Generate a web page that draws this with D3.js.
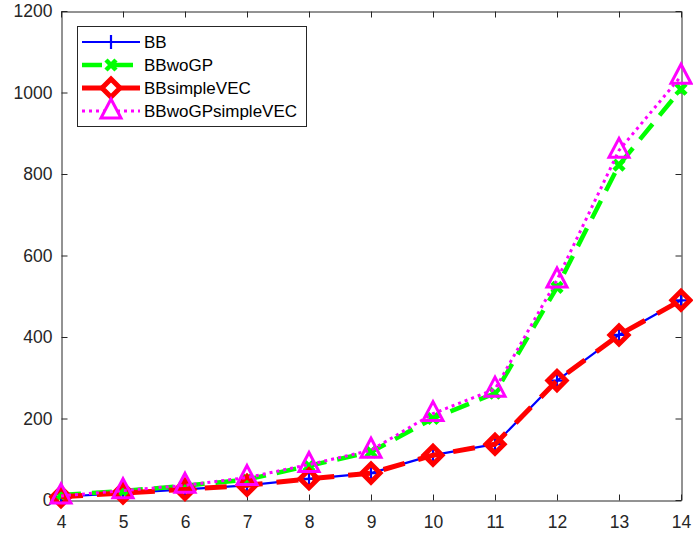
<!DOCTYPE html>
<html>
<head>
<meta charset="utf-8">
<script src="https://cdn.jsdelivr.net/npm/d3@7"></script>
<style>
  html, body { margin: 0; padding: 0; background: #fff; }
  svg { display: block; font-family: "Liberation Sans", Arial, Helvetica, sans-serif; }
</style>
</head>
<body>
<svg id="chart" width="693" height="538"></svg>
<script>
// ---- data ----
const xValues = [4, 5, 6, 7, 8, 9, 10, 11, 12, 13, 14];
const seriesNames = ["BB", "BBwoGP", "BBsimpleVEC", "BBwoGPsimpleVEC"];
const bbValues = [8, 17, 26, 36, 52, 66, 110, 137, 293, 405, 490];
const bbwoGPValues = [12, 22, 35, 50, 84, 118, 200, 262, 522, 822, 1008];
const bbSimpleVECValues = [8, 17, 26, 36, 52, 66, 110, 137, 293, 405, 490];
const bbwoGPSimpleVECValues = [10, 23, 36, 55, 87, 122, 212, 272, 540, 858, 1040];
const xTicks = [4, 5, 6, 7, 8, 9, 10, 11, 12, 13, 14];
const yTicks = [0, 200, 400, 600, 800, 1000, 1200];

// ---- layout ----
const plot = { left: 61, right: 681, top: 11, bottom: 500 };
const axisColor = "#262626";
const tickFont = 17.5;

const svg = d3.select("#chart");
const x = d3.scaleLinear().domain([4, 14]).range([plot.left, plot.right]);
const y = d3.scaleLinear().domain([0, 1200]).range([plot.bottom, plot.top]);

// axes (box, inward ticks)
const tickLen = 6;
const gAx = svg.append("g");
const bottomAxis = d3.axisBottom(x).tickValues(xTicks).tickSizeInner(-tickLen).tickSizeOuter(0).tickPadding(15).tickFormat(d3.format("d"));
const leftAxis = d3.axisLeft(y).tickValues(yTicks).tickSizeInner(-tickLen).tickSizeOuter(0).tickPadding(9).tickFormat(d3.format("d"));
const topAxis = d3.axisTop(x).tickValues(xTicks).tickSizeInner(-tickLen).tickSizeOuter(0).tickFormat("");
const rightAxis = d3.axisRight(y).tickValues(yTicks).tickSizeInner(-tickLen).tickSizeOuter(0).tickFormat("");

function styleAxis(g) {
  g.attr("font-size", tickFont).attr("font-family", "'Liberation Sans', Arial, Helvetica, sans-serif");
  g.selectAll("path.domain").attr("stroke", axisColor).attr("stroke-width", 1);
  g.selectAll(".tick line").attr("stroke", axisColor).attr("stroke-width", 1);
  g.selectAll(".tick text").attr("fill", axisColor).attr("font-size", tickFont);
}
gAx.append("g").attr("transform", `translate(0,${plot.bottom + 0.5})`).call(bottomAxis).call(styleAxis);
gAx.append("g").attr("transform", `translate(${plot.left + 0.5},0)`).call(leftAxis).call(styleAxis);
gAx.append("g").attr("transform", `translate(0,${plot.top + 0.5})`).call(topAxis).call(styleAxis);
gAx.append("g").attr("transform", `translate(${plot.right + 0.5},0)`).call(rightAxis).call(styleAxis);

// marker symbols
function markerPath(type) {
  switch (type) {
    case "plus": return "M-7,0L7,0M0,-7L0,7";
    case "x": return "M-5,-5L5,5M-5,5L5,-5";
    case "diamond": return "M0,-9L9,0L0,9L-9,0Z";
    case "triangle": return "M0,-12L10,7L-10,7Z";
  }
}

const series = [
  { name: seriesNames[0], values: bbValues, color: "#0000ff", width: 2.2, dash: null, marker: "plus", mWidth: 2.2 },
  { name: seriesNames[1], values: bbwoGPValues, color: "#00ff00", width: 4.5, dash: "20,11", marker: "x", mWidth: 4.5 },
  { name: seriesNames[2], values: bbSimpleVECValues, color: "#ff0000", width: 5, dash: "22,14", marker: "diamond", mWidth: 5 },
  { name: seriesNames[3], values: bbwoGPSimpleVECValues, color: "#ff00ff", width: 3, dash: "3,4", marker: "triangle", mWidth: 3 }
];

const line = d3.line().x((d, i) => x(xValues[i])).y(d => y(d));

const gData = svg.append("g");
series.forEach(s => {
  const g = gData.append("g");
  g.append("path").datum(s.values).attr("d", line)
    .attr("fill", "none").attr("stroke", s.color).attr("stroke-width", s.width)
    .attr("stroke-dasharray", s.dash).attr("stroke-linecap", "butt").attr("stroke-linejoin", "round");
  g.selectAll("path.m").data(s.values).join("path").attr("class", "m")
    .attr("transform", (d, i) => `translate(${x(xValues[i])},${y(d)})`)
    .attr("d", markerPath(s.marker))
    .attr("fill", "none").attr("stroke", s.color).attr("stroke-width", s.mWidth)
    .attr("stroke-linejoin", "miter");
});

// legend
const legend = { x: 77, y: 26, w: 229, h: 100 };
const lg = svg.append("g");
lg.append("rect").attr("x", legend.x + 0.5).attr("y", legend.y + 0.5).attr("width", legend.w).attr("height", legend.h)
  .attr("fill", "#fff").attr("stroke", axisColor).attr("stroke-width", 1);
const rowY = [42, 65, 88, 111];
series.forEach((s, i) => {
  const ry = rowY[i];
  lg.append("path").attr("d", `M82,${ry}L140,${ry}`)
    .attr("fill", "none").attr("stroke", s.color).attr("stroke-width", s.width)
    .attr("stroke-dasharray", s.dash).attr("stroke-linecap", "butt");
  lg.append("path").attr("transform", `translate(111,${ry})`).attr("d", markerPath(s.marker))
    .attr("fill", s.marker === "diamond" || s.marker === "triangle" ? "#fff" : "none")
    .attr("stroke", s.color).attr("stroke-width", s.mWidth).attr("stroke-linejoin", "miter");
  lg.append("text").attr("x", 144).attr("y", ry).attr("dy", "0.35em")
    .attr("font-size", 17).attr("fill", "#000").text(s.name);
});
</script>
</body>
</html>
